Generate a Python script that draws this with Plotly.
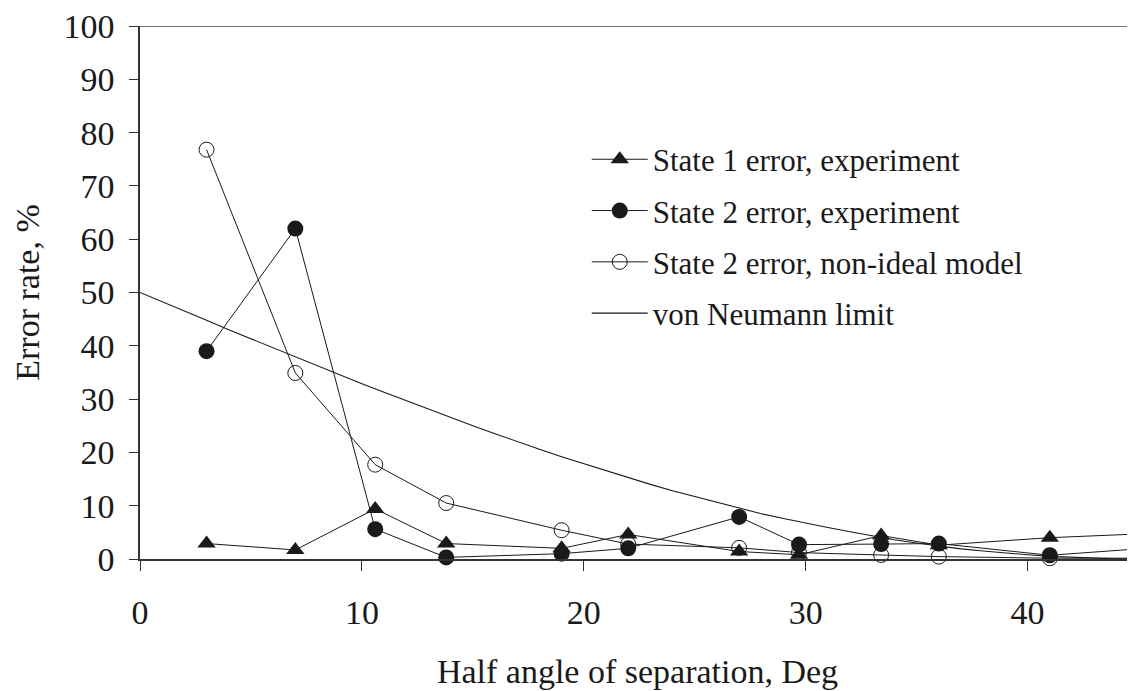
import plotly.graph_objects as go

# Data
x_exp = [3, 7, 10.6, 13.8, 19, 22, 27, 29.7, 33.4, 36, 41, 45]
state1_exp = [2.9, 1.7, 9.4, 2.9, 2.0, 4.6, 1.4, 0.8, 4.4, 2.6, 4.0, 4.7]
state2_exp = [39.0, 62.0, 5.6, 0.3, 1.0, 2.0, 7.9, 2.7, 2.8, 2.9, 0.7, 1.9]
state2_model = [76.8, 34.9, 17.7, 10.5, 5.4, 2.8, 2.1, 1.2, 0.75, 0.45, 0.15, 0.15]

x_vn = [0, 1, 2, 3, 4, 5, 6, 7, 8, 9, 10, 11, 12, 13, 14, 15, 16, 17, 18, 19, 20,
        21, 22, 23, 24, 25, 26, 27, 28, 29, 30, 31, 32, 33, 34, 35, 36, 37, 38, 39,
        40, 41, 42, 43, 44, 45]
von_neumann = [50.0, 48.3, 46.5, 44.8, 43.0, 41.3, 39.6, 37.9, 36.2, 34.5, 32.9,
               31.3, 29.7, 28.1, 26.5, 25.0, 23.5, 22.0, 20.6, 19.2, 17.9, 16.5,
               15.3, 14.0, 12.8, 11.7, 10.6, 9.5, 8.5, 7.6, 6.7, 5.9, 5.1, 4.3,
               3.6, 3.0, 2.4, 1.9, 1.5, 1.1, 0.8, 0.5, 0.3, 0.1, 0.03, 0.0]

x_ticks = [0, 10, 20, 30, 40]
y_ticks = [0, 10, 20, 30, 40, 50, 60, 70, 80, 90, 100]

FONT = "Liberation Serif"
line_style = dict(color="#1a1a1a", width=1)

fig = go.Figure()
fig.add_trace(go.Scatter(
    x=x_exp, y=state1_exp, mode="lines+markers", name="State 1 error, experiment",
    line=line_style, legendgroup="a",
    marker=dict(symbol="triangle-up", size=16, color="#1a1a1a"),
    cliponaxis=False))
fig.add_trace(go.Scatter(
    x=x_exp, y=state2_exp, mode="lines+markers", name="State 2 error, experiment",
    line=line_style, legendgroup="b",
    marker=dict(symbol="circle", size=16, color="#1a1a1a"),
    cliponaxis=False))
fig.add_trace(go.Scatter(
    x=x_exp, y=state2_model, mode="lines+markers", name="State 2 error, non-ideal model",
    line=line_style, legendgroup="c",
    marker=dict(symbol="circle-open", size=15, color="#1a1a1a", line=dict(width=1)),
    cliponaxis=False))
fig.add_trace(go.Scatter(
    x=x_vn, y=von_neumann, mode="lines", name="von Neumann limit",
    line=dict(color="#1a1a1a", width=1.1), legendgroup="d"))

# top frame line
fig.add_shape(type="line", xref="paper", yref="y", x0=0, x1=1, y0=100, y1=100,
              line=dict(color="#777777", width=2))

# the page body keeps an 8 px margin, so the figure is sized to end at 1135x691
fig.update_layout(
    width=1127, height=683,
    margin=dict(l=132, r=0, t=14, b=132),
    paper_bgcolor="white", plot_bgcolor="white",
    font=dict(family=FONT, size=34, color="#1a1a1a"),
    showlegend=True,
    legend=dict(x=0.449, y=0.80, xanchor="left", yanchor="top",
                bgcolor="rgba(0,0,0,0)", font=dict(size=31, family=FONT),
                itemwidth=56, tracegroupgap=8, itemsizing="trace"),
    xaxis=dict(range=[0, 44.84], tickvals=x_ticks, ticks="outside", ticklen=10,
               tickcolor="#333333", showline=True, linecolor="#333333", linewidth=1.5,
               showgrid=False, zeroline=False, ticklabelstandoff=12,
               ticklabeloverflow="allow",
               title=dict(text="Half angle of separation, Deg", standoff=30,
                          font=dict(size=34, family=FONT))),
    yaxis=dict(range=[0, 100], tickvals=y_ticks, ticks="outside", ticklen=9,
               tickcolor="#333333", showline=True, linecolor="#333333", linewidth=1.5,
               showgrid=False, zeroline=False, ticklabelstandoff=8,
               ticklabeloverflow="allow",
               title=dict(text="Error rate, %", standoff=14,
                          font=dict(size=34, family=FONT))),
)

fig.write_html("out.html")
